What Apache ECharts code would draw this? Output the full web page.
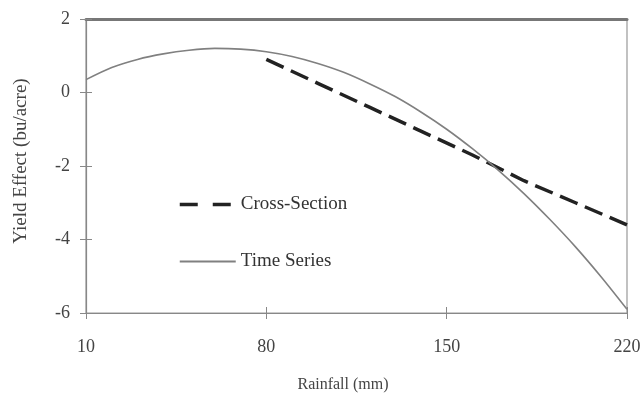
<!DOCTYPE html>
<html>
<head>
<meta charset="utf-8">
<script src="https://cdn.jsdelivr.net/npm/echarts@6/dist/echarts.min.js"></script>
<style>
  html, body { margin: 0; padding: 0; background: #fff; }
  #main { width: 644px; height: 402px; }
</style>
</head>
<body>
<div id="main"></div>
<script>
// data
var rainfall = [10, 20, 30, 40, 50, 60, 70, 80, 90, 100, 110, 120, 130, 140, 150, 160, 170, 180, 190, 200, 210, 220];
var timeSeries = [0.35, 0.68, 0.9, 1.05, 1.15, 1.2, 1.18, 1.11, 0.98, 0.79, 0.55, 0.24, -0.11, -0.53, -1.0, -1.53, -2.11, -2.75, -3.45, -4.2, -5.02, -5.9];
var csRainfall = [80, 100, 120, 140, 160, 180, 200, 220];
var crossSection = [0.9, 0.25, -0.4, -1.05, -1.7, -2.4, -3.0, -3.6];
var xTicks = [10, 80, 150, 220];

var serif = "'Liberation Serif', 'DejaVu Serif', serif";

var myChart = echarts.init(document.getElementById("main"));

function pairs(xs, ys) {
  return xs.map(function (x, i) { return [x, ys[i]]; });
}

var option = {
  animation: false,
  backgroundColor: "#fff",
  grid: {
    left: 86,
    right: 17,
    top: 19,
    bottom: 89,
    show: true,
    borderColor: "#999",
    borderWidth: 1.2,
  },
  legend: {
    orient: "vertical",
    left: 173,
    top: 190,
    itemWidth: 56,
    itemHeight: 20,
    itemGap: 38,
    itemStyle: { opacity: 0 },
    textStyle: { fontFamily: serif, fontSize: 19, color: "#333" },
    data: [
      { name: "Cross-Section", lineStyle: { type: [18, 15], width: 3.5, color: "#222" } },
      { name: "Time Series" },
    ],
  },
  xAxis: [
    {
      type: "value",
      min: 10,
      max: 220,
      name: "Rainfall (mm)",
      nameLocation: "middle",
      nameGap: 64,
      nameTextStyle: { fontFamily: serif, fontSize: 16, color: "#444", padding: [0, 27, 0, 0] },
      splitLine: { show: false },
      axisLine: { onZero: false, lineStyle: { color: "#888", width: 1.2 } },
      axisTick: { inside: false, length: 6, lineStyle: { color: "#888" }, customValues: xTicks },
      axisLabel: { margin: 25, fontFamily: serif, fontSize: 18, color: "#444", customValues: xTicks },
    },
    {
      type: "value",
      min: 10,
      max: 220,
      position: "top",
      splitLine: { show: false },
      axisLine: { onZero: false, lineStyle: { color: "#777", width: 3 } },
      axisTick: { show: false },
      axisLabel: { show: false },
    },
    {
      // inner half of the crossing ticks
      type: "value",
      min: 10,
      max: 220,
      position: "bottom",
      splitLine: { show: false },
      axisLine: { show: false, onZero: false },
      axisTick: { inside: true, length: 6, lineStyle: { color: "#888" }, customValues: xTicks },
      axisLabel: { show: false },
    },
  ],
  yAxis: [
    {
      type: "value",
      min: -6,
      max: 2,
      interval: 2,
      name: "Yield Effect (bu/acre)",
      nameLocation: "middle",
      nameGap: 55,
      nameTextStyle: { fontFamily: serif, fontSize: 19, color: "#444", padding: [0, 0, 0, 10] },
      splitLine: { show: false },
      axisLine: { show: true, onZero: false, lineStyle: { color: "#888", width: 1.2 } },
      axisTick: { show: true, length: 6, lineStyle: { color: "#888" } },
      axisLabel: { margin: 16, fontFamily: serif, fontSize: 18, color: "#444" },
    },
    {
      type: "value",
      min: -6,
      max: 2,
      interval: 2,
      position: "left",
      splitLine: { show: false },
      axisLine: { show: false, onZero: false },
      axisTick: { show: true, inside: true, length: 6, lineStyle: { color: "#888" } },
      axisLabel: { show: false },
    },
  ],
  series: [
    {
      name: "Cross-Section",
      type: "line",
      data: pairs(csRainfall, crossSection),
      showSymbol: false,
      symbol: "none",
      lineStyle: { color: "#222", width: 3.5, type: [19, 8] },
      itemStyle: { color: "#222" },
    },
    {
      name: "Time Series",
      type: "line",
      data: pairs(rainfall, timeSeries),
      smooth: 0.3,
      showSymbol: false,
      symbol: "none",
      lineStyle: { color: "#808080", width: 1.6 },
      itemStyle: { color: "#808080" },
    },
  ],
};

myChart.setOption(option);
</script>
</body>
</html>
